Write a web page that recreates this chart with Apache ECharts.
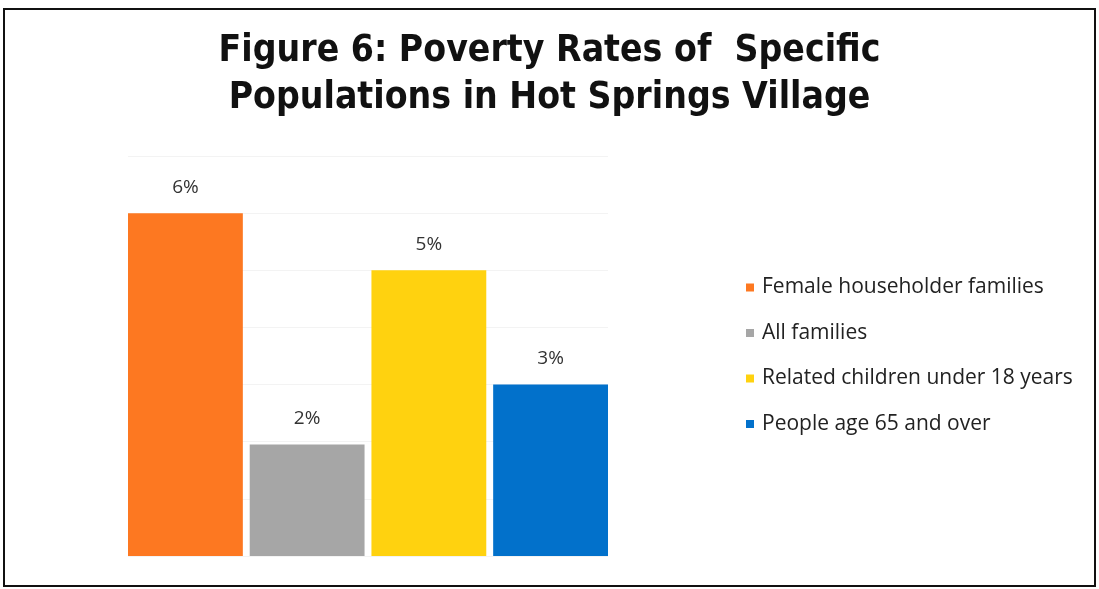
<!DOCTYPE html>
<html>
<head>
<meta charset="utf-8">
<script src="https://cdn.jsdelivr.net/npm/echarts@6/dist/echarts.min.js"></script>
<style>
  html, body { margin: 0; padding: 0; background: #fff; }
  #frame {
    position: absolute; left: 3px; top: 8px; width: 1089px; height: 575px;
    border: 2px solid #111;
  }
  #chart { position: absolute; left: 0; top: 0; width: 1099px; height: 589px; }
</style>
</head>
<body>
<div id="frame"></div>
<div id="chart"></div>
<script>
const titleLines = ['Figure 6: Poverty Rates of  Specific', 'Populations in Hot Springs Village']
const groups = ['Female householder families', 'All families', 'Related children under 18 years', 'People age 65 and over']
const rates = [0.06, 0.0195, 0.05, 0.03]
const colors = ['#fd7821', '#a6a6a6', '#ffd20f', '#0271cb']

const chart = echarts.init(document.getElementById('chart'))

const seriesData = groups.map((name, i) => {
  return {
    name: name,
    type: 'bar',
    data: [rates[i]],
    barGap: '6%',
    barCategoryGap: 0,
    itemStyle: { color: colors[i] },
    label: {
      show: true,
      position: 'top',
      distance: 16,
      fontFamily: 'Open Sans',
      fontSize: 19,
      color: '#333',
      formatter: p => Math.round(p.value * 100) + '%'
    }
  }
})

chart.setOption({
  animation: false,
  title: {
    text: titleLines.join('\n'),
    left: 'center',
    top: 23,
    textStyle: {
      fontFamily: 'DejaVu Sans Condensed',
      fontWeight: 'bold',
      fontSize: 37,
      lineHeight: 47,
      color: '#111'
    }
  },
  grid: {
    left: 128,
    right: 491,
    top: 156,
    bottom: 33
  },
  legend: {
    orient: 'vertical',
    left: 741,
    top: 272,
    icon: 'rect',
    itemWidth: 8,
    itemHeight: 8,
    itemGap: 24.5,
    textStyle: {
      fontFamily: 'Open Sans',
      fontSize: 21,
      color: '#222',
      padding: [0, 0, 0, 3]
    }
  },
  xAxis: {
    type: 'category',
    data: [''],
    axisLine: { show: false },
    axisTick: { show: false },
    axisLabel: { show: false }
  },
  yAxis: {
    type: 'value',
    min: 0,
    max: 0.07,
    interval: 0.01,
    axisLine: { show: false },
    axisTick: { show: false },
    axisLabel: { show: false },
    splitLine: { lineStyle: { color: '#f3f3f3' } }
  },
  series: seriesData
})
</script>
</body>
</html>
